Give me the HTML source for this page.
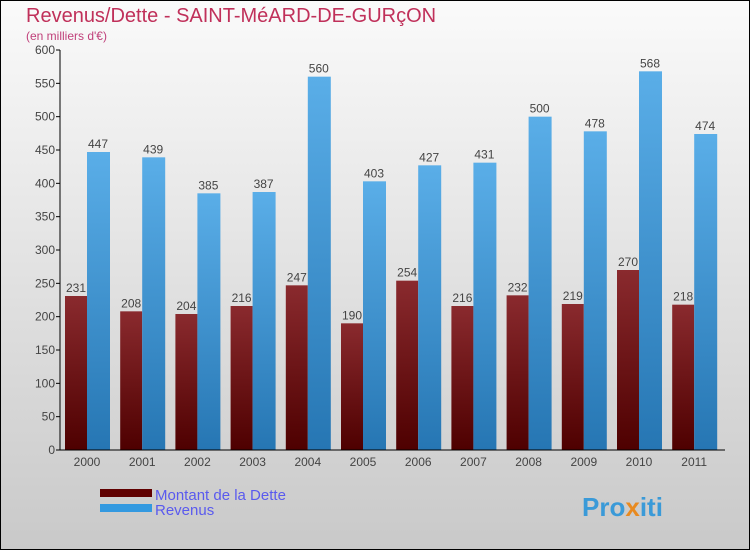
<!DOCTYPE html>
<html><head><meta charset="utf-8"><style>
body{margin:0}
#c{width:750px;height:550px;position:relative;box-sizing:border-box;border:1px solid #000;background:linear-gradient(#fafafa,#c9c9c9);font-family:"Liberation Sans",sans-serif;overflow:hidden}
</style></head><body>
<div id="c">
<svg width="750" height="550" id="s" style="position:absolute;left:-1px;top:-1px">
<defs>
<linearGradient id="gd" x1="0" y1="0" x2="0" y2="1"><stop offset="0" stop-color="#8a2a2e"/><stop offset="1" stop-color="#4e0000"/></linearGradient>
<linearGradient id="gr" x1="0" y1="0" x2="0" y2="1"><stop offset="0" stop-color="#5aaee8"/><stop offset="1" stop-color="#2676b3"/></linearGradient>
</defs>
<text x="26" y="22" font-size="20" fill="#c0305a">Revenus/Dette - SAINT-MéARD-DE-GURçON</text>
<text x="26" y="40" font-size="12" fill="#c0407a">(en milliers d'€)</text>
<g id="g"></g>
<rect x="100" y="489" width="52" height="8" fill="#600000"/>
<rect x="100" y="504" width="52" height="8" fill="#3399e0"/>
<text x="155" y="500" font-size="15" fill="#5a5aee">Montant de la Dette</text>
<text x="155" y="515" font-size="15" fill="#5a5aee">Revenus</text>
<text x="582" y="516" font-size="26" font-weight="bold" fill="#3a9ad8">Pro<tspan fill="#e88a20">x</tspan>iti</text>
</svg>
</div>
<script>
const categories=["2000","2001","2002","2003","2004","2005","2006","2007","2008","2009","2010","2011"];
const dette=[231,208,204,216,247,190,254,216,232,219,270,218];
const revenus=[447,439,385,387,560,403,427,431,500,478,568,474];
const ticks=[0,50,100,150,200,250,300,350,400,450,500,550,600];
const g=document.getElementById('g');const NS="http://www.w3.org/2000/svg";
const y=v=>450-v*400/600;const x0=i=>65+55.2*i;
function mk(t,a){const e=document.createElementNS(NS,t);for(const k in a)e.setAttribute(k,a[k]);g.appendChild(e);return e;}
ticks.forEach(t=>{
 const l=mk('line',{x1:56,x2:60,y1:y(t),y2:y(t),stroke:'#000'});
 
 
 const tx=mk('text',{x:55,y:y(t)+4,'text-anchor':'end','font-size':12,fill:'#444'});tx.textContent=t;
 
 
});
categories.forEach((c,i)=>{
 const xd=x0(i);
 const b1=mk('rect',{x:xd,y:y(dette[i]),width:22,height:450-y(dette[i]),fill:'url(#gd)'});
 
 
 const b2=mk('rect',{x:xd+22,y:y(revenus[i]),width:23,height:450-y(revenus[i]),fill:'url(#gr)'});
 
 
 const t1=mk('text',{x:xd+11,y:y(dette[i])-4,'text-anchor':'middle','font-size':12,fill:'#444'});t1.textContent=dette[i];
 
 
 const t2=mk('text',{x:xd+33,y:y(revenus[i])-4,'text-anchor':'middle','font-size':12,fill:'#444'});t2.textContent=revenus[i];
 
 
 const xl=mk('text',{x:xd+22,y:466,'text-anchor':'middle','font-size':12,fill:'#444'});xl.textContent=c;
 
 
});
const ax=mk('line',{x1:60,x2:60,y1:50,y2:450,stroke:'#000'});


const bx=mk('line',{x1:56,x2:725,y1:450,y2:450,stroke:'#000'});


</script>
</body></html>
